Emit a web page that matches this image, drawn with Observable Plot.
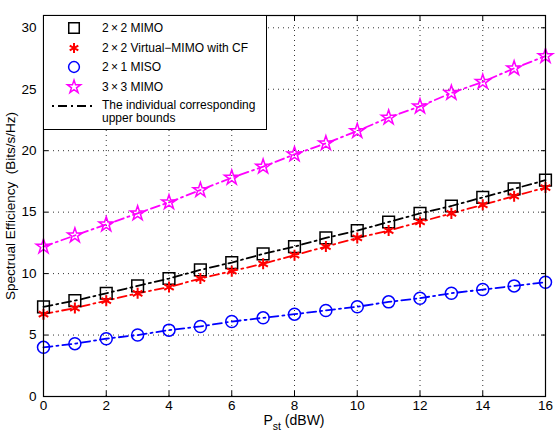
<!DOCTYPE html>
<html>
<head>
<meta charset="utf-8">
<script src="https://cdn.jsdelivr.net/npm/d3@7"></script>
<script src="https://cdn.jsdelivr.net/npm/@observablehq/plot@0.6"></script>
<style>
  html, body { margin: 0; padding: 0; background: #fff; }
  #wrap { position: relative; width: 558px; height: 440px; font-family: "Liberation Sans", Arial, sans-serif; }
  #wrap svg text { font-size: 13.5px; }
  #legend { position: absolute; left: 43px; top: 15px; width: 224px; height: 115px; border: 1px solid #000; background: #fff; box-sizing: border-box; font-size: 12px; }
  #xlabel { position: absolute; left: 0; width: 588px; top: 412px; text-align: center; font-size: 14px; }
</style>
</head>
<body>
<div id="wrap"></div>
<script>
const power = [0,1,2,3,4,5,6,7,8,9,10,11,12,13,14,15,16];
const mimo2x2 = [7.3,7.8,8.4,9.0,9.6,10.3,10.9,11.6,12.2,12.9,13.5,14.2,14.9,15.5,16.2,16.9,17.6];
const virtualMimo = [6.7,7.2,7.8,8.4,8.9,9.6,10.2,10.8,11.5,12.2,12.9,13.5,14.2,14.9,15.6,16.3,17.0];
const miso2x1 = [4.0,4.3,4.7,5.0,5.4,5.7,6.1,6.4,6.7,7.0,7.3,7.7,8.0,8.4,8.7,9.0,9.3];
const mimo3x3 = [12.2,13.1,14.0,14.9,15.8,16.8,17.8,18.7,19.7,20.6,21.6,22.7,23.6,24.7,25.6,26.7,27.7];
const seriesNames = ["2\u2009×\u20092 MIMO", "2\u2009×\u20092 Virtual\u2212MIMO with CF", "2\u2009×\u20091 MISO", "3\u2009×\u20093 MIMO"];
const boundLabel = ["The individual corresponding", "upper bounds"];
const xTicks = [0,2,4,6,8,10,12,14,16];
const yTicks = [0,5,10,15,20,25,30];

const series = [
  {name: seriesNames[0], values: mimo2x2, color: "#000000", symbol: "square", r: 6.6, sw: 1.5},
  {name: seriesNames[1], values: virtualMimo, color: "#ff0000", symbol: "asterisk", r: 5.2, sw: 2},
  {name: seriesNames[2], values: miso2x1, color: "#0000ff", symbol: "circle", r: 6.0, sw: 1.5},
  {name: seriesNames[3], values: mimo3x3, color: "#ff00ff", symbol: "star", r: 4.6, sw: 1.5}
];
const rows = series.flatMap(s => power.map((p, i) => ({series: s.name, x: p, y: s.values[i]})));

const marks = [
  Plot.gridX(xTicks, {stroke: "#333", strokeOpacity: 1, strokeDasharray: "1,4"}),
  Plot.gridY(yTicks, {stroke: "#333", strokeOpacity: 1, strokeDasharray: "1,4"}),
];
for (const s of series) {
  const d = rows.filter(r => r.series === s.name);
  marks.push(Plot.line(d, {x: "x", y: "y", stroke: s.color, strokeWidth: 1.8, strokeDasharray: "9,4,2,4"}));
}
for (const s of series) {
  const d = rows.filter(r => r.series === s.name);
  marks.push(Plot.dot(d, {x: "x", y: "y", stroke: s.color, symbol: () => s.symbol, r: s.r, strokeWidth: s.sw, fill: "none"}));
}
marks.push(
  Plot.axisX(xTicks, {anchor: "bottom", tickSize: 0, tickPadding: 4, label: null}),
  Plot.axisX(xTicks, {anchor: "bottom", tickSize: -5, tickFormat: () => "", label: null}),
  Plot.axisX(xTicks, {anchor: "top", tickSize: -5, tickFormat: () => "", label: null}),
  Plot.axisY(yTicks, {anchor: "left", tickSize: 0, tickPadding: 7, label: "Spectrual Efficiency\u00a0 (Bits/s/Hz)", labelAnchor: "center", labelArrow: "none", labelOffset: 38}),
  Plot.axisY(yTicks, {anchor: "left", tickSize: -5, tickFormat: () => "", label: null}),
  Plot.axisY(yTicks, {anchor: "right", tickSize: -5, tickFormat: () => "", label: null}),
  Plot.frame({stroke: "#000", strokeWidth: 1.2})
);

const chart = Plot.plot({
  width: 558,
  height: 440,
  marginLeft: 43,
  marginRight: 13,
  marginTop: 15,
  marginBottom: 44,
  style: {fontFamily: "'Liberation Sans', Arial, sans-serif", fontSize: "13.5px", color: "#000", background: "#fff"},
  x: {domain: [0, 16]},
  y: {domain: [0, 31]},
  symbol: {type: "identity"},
  marks
});
const wrap = document.getElementById("wrap");
wrap.appendChild(chart);

// x label with subscript
const xl = document.createElement("div");
xl.id = "xlabel";
xl.innerHTML = "P<sub style='font-size:10.5px;vertical-align:-5px'>st</sub> (dBW)";
wrap.appendChild(xl);

// legend
const leg = document.createElement("div");
leg.id = "legend";
const symbolType = {square: d3.symbolSquare, asterisk: d3.symbolAsterisk, circle: d3.symbolCircle, star: d3.symbolStar};
let html = "";
series.forEach((s, i) => {
  const r = s.r * 0.9;
  const path = d3.symbol(symbolType[s.symbol], Math.PI * r * r)();
  html += `<div style="position:absolute;left:0;top:${2 + i * 19.6}px;height:20px;width:100%">
    <svg width="50" height="20" style="position:absolute;left:5px;top:0"><path d="${path}" transform="translate(25,10)" fill="none" stroke="${s.color}" stroke-width="${s.sw}"/></svg>
    <span style="position:absolute;left:58px;top:3px;white-space:nowrap">${s.name}</span></div>`;
});
html += `<div style="position:absolute;left:0;top:${2 + 4 * 19.6}px;width:100%">
  <svg width="50" height="20" style="position:absolute;left:5px;top:0"><line x1="3" x2="47" y1="10" y2="10" stroke="#000" stroke-width="1.8" stroke-dasharray="2,4,9,4"/></svg>
  <span style="position:absolute;left:58px;top:3px;white-space:nowrap;line-height:13px">${boundLabel[0]}<br>${boundLabel[1]}</span></div>`;
leg.innerHTML = html;
wrap.appendChild(leg);
</script>
</body>
</html>
